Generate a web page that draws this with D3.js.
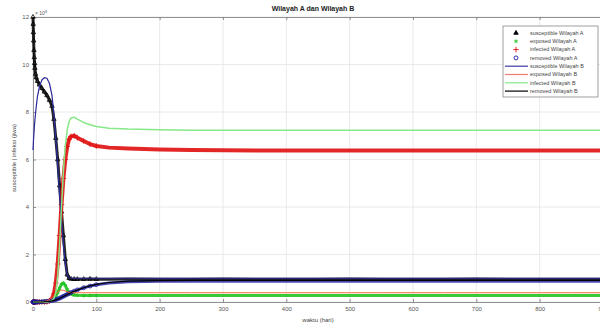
<!DOCTYPE html>
<html>
<head>
<meta charset="utf-8">
<script src="https://cdn.jsdelivr.net/npm/d3@7"></script>
<style>
  body { margin: 0; background: #fff; }
  svg { display: block; font-family: "Liberation Sans", Arial, sans-serif; }
</style>
</head>
<body>
<div id="plot"></div>
<script>
// waktu (hari)
var hari = [0, 0.3, 0.6, 1, 1.5, 2, 2.5, 3, 4, 5, 7, 10, 14, 18, 22, 26, 30, 33, 36, 39, 42, 45, 48, 51, 54, 57, 60, 65, 70, 80, 90, 100, 120, 150, 200, 250, 300, 350, 400, 450, 500, 550, 600, 650, 700, 750, 800, 850, 900];

// Wilayah A (x 10^6)
var rentanA   = [12, 11.7, 11.35, 11.0, 10.6, 10.3, 10.05, 9.85, 9.6, 9.45, 9.3, 9.15, 9.0, 8.85, 8.7, 8.5, 8.25, 7.7, 6.9, 6.0, 4.9, 3.8, 2.8, 1.8, 1.15, 1.0, 0.97, 0.96, 0.96, 0.96, 0.97, 0.96, 0.96, 0.97, 0.96, 0.96, 0.97, 0.96, 0.96, 0.96, 0.97, 0.96, 0.96, 0.96, 0.97, 0.96, 0.96, 0.96, 0.96];
var terpaparA = [0, 0, 0, 0, 0, 0, 0, 0, 0, 0, 0, 0, 0, 0.01, 0.02, 0.04, 0.08, 0.15, 0.25, 0.4, 0.58, 0.75, 0.8, 0.7, 0.52, 0.4, 0.33, 0.29, 0.28, 0.27, 0.27, 0.27, 0.27, 0.27, 0.27, 0.27, 0.27, 0.27, 0.27, 0.27, 0.27, 0.27, 0.27, 0.27, 0.27, 0.27, 0.27, 0.27, 0.27];
var infeksiA  = [0, 0, 0, 0, 0, 0, 0, 0, 0, 0, 0, 0, 0, 0, 0.01, 0.05, 0.15, 0.35, 0.8, 1.6, 2.8, 4.1, 5.2, 6.0, 6.55, 6.85, 6.97, 7.0, 6.92, 6.78, 6.65, 6.57, 6.5, 6.46, 6.42, 6.4, 6.39, 6.38, 6.38, 6.38, 6.38, 6.38, 6.38, 6.38, 6.38, 6.38, 6.38, 6.38, 6.38];
var sembuhA   = [0, 0, 0, 0, 0, 0, 0, 0, 0, 0, 0, 0, 0.01, 0.02, 0.03, 0.04, 0.06, 0.08, 0.1, 0.13, 0.16, 0.2, 0.24, 0.28, 0.32, 0.36, 0.4, 0.46, 0.51, 0.6, 0.67, 0.73, 0.8, 0.85, 0.87, 0.87, 0.87, 0.87, 0.87, 0.87, 0.87, 0.87, 0.87, 0.87, 0.87, 0.87, 0.87, 0.87, 0.87];

// Wilayah B (x 10^6)
var rentanB   = [6.4, 6.55, 6.7, 6.9, 7.1, 7.3, 7.5, 7.65, 7.95, 8.2, 8.65, 9.05, 9.35, 9.45, 9.42, 9.2, 8.7, 7.9, 6.9, 5.7, 4.5, 3.4, 2.4, 1.6, 1.15, 1.02, 1.0, 1.0, 1.0, 1.0, 1.0, 1.0, 1.0, 1.0, 1.0, 1.0, 1.0, 1.0, 1.0, 1.0, 1.0, 1.0, 1.0, 1.0, 1.0, 1.0, 1.0, 1.0, 1.0];
var terpaparB = [0, 0, 0, 0, 0, 0, 0, 0, 0, 0, 0, 0, 0, 0.02, 0.05, 0.1, 0.18, 0.26, 0.34, 0.42, 0.48, 0.5, 0.49, 0.46, 0.43, 0.41, 0.4, 0.39, 0.39, 0.39, 0.39, 0.39, 0.39, 0.39, 0.39, 0.39, 0.39, 0.39, 0.39, 0.39, 0.39, 0.39, 0.39, 0.39, 0.39, 0.39, 0.39, 0.39, 0.39];
var infeksiB  = [0, 0, 0, 0, 0, 0, 0, 0, 0, 0, 0, 0, 0, 0, 0, 0.02, 0.06, 0.15, 0.4, 1.1, 2.4, 4.0, 5.5, 6.6, 7.25, 7.6, 7.75, 7.78, 7.7, 7.56, 7.46, 7.39, 7.32, 7.28, 7.25, 7.23, 7.23, 7.23, 7.23, 7.23, 7.23, 7.23, 7.23, 7.23, 7.23, 7.23, 7.23, 7.23, 7.23];
var sembuhB   = [0, 0, 0, 0, 0, 0, 0, 0, 0, 0, 0, 0, 0, 0.01, 0.02, 0.03, 0.05, 0.07, 0.09, 0.12, 0.15, 0.19, 0.23, 0.27, 0.31, 0.35, 0.39, 0.45, 0.5, 0.6, 0.68, 0.74, 0.82, 0.88, 0.9, 0.91, 0.91, 0.91, 0.91, 0.91, 0.91, 0.91, 0.91, 0.91, 0.91, 0.91, 0.91, 0.91, 0.91];

var xTicks = [0, 100, 200, 300, 400, 500, 600, 700, 800, 900];
var yTicks = [0, 2, 4, 6, 8, 10, 12];

var labels = ["susceptible Wilayah A", "exposed Wilayah A", "infected Wilayah A", "removed Wilayah A",
              "susceptible Wilayah B", "exposed Wilayah B", "infected Wilayah B", "removed Wilayah B"];

var width = 600, height = 323;
var pLeft = 33, pRight = 603, pTop = 17, pBottom = 302;

var svg = d3.select("#plot").append("svg").attr("width", width).attr("height", height);

var x = d3.scaleLinear().domain([0, 900]).range([pLeft, pRight]);
var y = d3.scaleLinear().domain([0, 12]).range([pBottom, pTop]);

// grid
svg.append("g").selectAll("line").data(xTicks).enter().append("line")
  .attr("x1", d => x(d)).attr("x2", d => x(d)).attr("y1", pTop).attr("y2", pBottom)
  .attr("stroke", "#e4e4e4").attr("stroke-width", 0.8);
svg.append("g").selectAll("line").data(yTicks).enter().append("line")
  .attr("x1", pLeft).attr("x2", pRight).attr("y1", d => y(d)).attr("y2", d => y(d))
  .attr("stroke", "#e4e4e4").attr("stroke-width", 0.8);

// axes (ticks inward, like matlab)
var xa = svg.append("g").attr("transform", "translate(0," + pBottom + ")")
  .call(d3.axisBottom(x).tickValues(xTicks).tickSize(-3).tickPadding(5));
var xa2 = svg.append("g").attr("transform", "translate(0," + pTop + ")")
  .call(d3.axisTop(x).tickValues(xTicks).tickSize(-3).tickFormat(""));
var ya = svg.append("g").attr("transform", "translate(" + pLeft + ",0)")
  .call(d3.axisLeft(y).tickValues(yTicks).tickSize(-3).tickPadding(4));
[xa, xa2, ya].forEach(function(a) {
  a.select(".domain").attr("stroke", "#777").attr("stroke-width", 0.8);
  a.selectAll(".tick line").attr("stroke", "#777").attr("stroke-width", 0.8);
  a.selectAll("text").attr("font-size", "6px").attr("fill", "#555");
});

var line = d3.line().x((d, i) => x(hari[i])).y(d => y(d));

var sym = {
  tri: d3.symbol().type(d3.symbolTriangle2 || d3.symbolTriangle).size(14),
  ast: d3.symbol().type(d3.symbolAsterisk || d3.symbolCross).size(10),
  plus: d3.symbol().type(d3.symbolPlus || d3.symbolCross).size(12),
  circ: d3.symbol().type(d3.symbolCircle).size(12)
};

var plotArea = svg.append("g");

// the solver output is so dense that the markers merge into a band;
// draw the band, and single markers only where they still stand apart
function markerSeries(vals, color, s, band, bandOpacity) {
  plotArea.append("path").datum(vals).attr("d", line)
    .attr("fill", "none").attr("stroke", color).attr("stroke-width", band)
    .attr("stroke-opacity", bandOpacity).attr("stroke-linejoin", "round");
  var pts = vals.map((v, i) => [hari[i], v]).filter(p => p[0] <= 100);
  plotArea.append("g").selectAll("path").data(pts).enter().append("path")
    .attr("d", s)
    .attr("transform", d => "translate(" + x(d[0]) + "," + y(d[1]) + ")")
    .attr("fill", "none").attr("stroke", color).attr("stroke-width", 0.8);
}
function lineSeries(vals, color, w) {
  plotArea.append("path").datum(vals).attr("d", line)
    .attr("fill", "none").attr("stroke", color).attr("stroke-width", w)
    .attr("stroke-linejoin", "round");
}

markerSeries(rentanA, "#000000", sym.tri, 3, 0.85);
markerSeries(terpaparA, "#22c322", sym.ast, 3, 0.9);
markerSeries(infeksiA, "#e01010", sym.plus, 4, 0.9);
markerSeries(sembuhA, "#1a1a9a", sym.circ, 3, 0.8);
lineSeries(rentanB, "#2a2a9c", 1.2);
lineSeries(terpaparB, "#f06a3a", 1);
lineSeries(infeksiB, "#86e886", 1.5);
lineSeries(sembuhB, "#000000", 1.2);

// x10^6
svg.append("text").attr("x", pLeft + 2).attr("y", pTop - 2)
  .attr("font-size", "5px").attr("fill", "#555")
  .html("&#215; 10<tspan dy='-2' font-size='4px'>6</tspan>");

// title and axis labels
svg.append("text").attr("x", 313).attr("y", 11).attr("text-anchor", "middle")
  .attr("font-size", "7px").attr("font-weight", "bold").attr("fill", "#222")
  .text("Wilayah A dan Wilayah B");
svg.append("text").attr("x", 318).attr("y", 322).attr("text-anchor", "middle")
  .attr("font-size", "6px").attr("fill", "#444").text("waktu (hari)");
svg.append("text").attr("transform", "translate(16,158) rotate(-90)").attr("text-anchor", "middle")
  .attr("font-size", "6px").attr("fill", "#444").text("susceptible | infeksi (jiwa)");

// legend
var lg = svg.append("g");
lg.append("rect").attr("x", 503).attr("y", 26).attr("width", 95).attr("height", 71)
  .attr("fill", "#fff").attr("stroke", "#888").attr("stroke-width", 0.8);
var kinds = [
  {m: sym.tri, c: "#000000"}, {m: sym.ast, c: "#22c322"}, {m: sym.plus, c: "#e01010"}, {m: sym.circ, c: "#1a1a9a"},
  {l: "#3a3aa8"}, {l: "#f07a70"}, {l: "#86e886"}, {l: "#000000"}
];
labels.forEach(function(t, i) {
  var yy = 33 + i * 8.3;
  var k = kinds[i];
  if (k.m) {
    lg.append("path").attr("d", k.m).attr("transform", "translate(516," + yy + ")")
      .attr("fill", i === 0 ? "#000" : "none").attr("stroke", k.c).attr("stroke-width", 0.9);
  } else {
    lg.append("line").attr("x1", 505).attr("x2", 528).attr("y1", yy).attr("y2", yy)
      .attr("stroke", k.l).attr("stroke-width", 1.2);
  }
  lg.append("text").attr("x", 530).attr("y", yy + 1.8).attr("font-size", "5.5px")
    .attr("fill", "#444").text(t);
});
</script>
</body>
</html>
